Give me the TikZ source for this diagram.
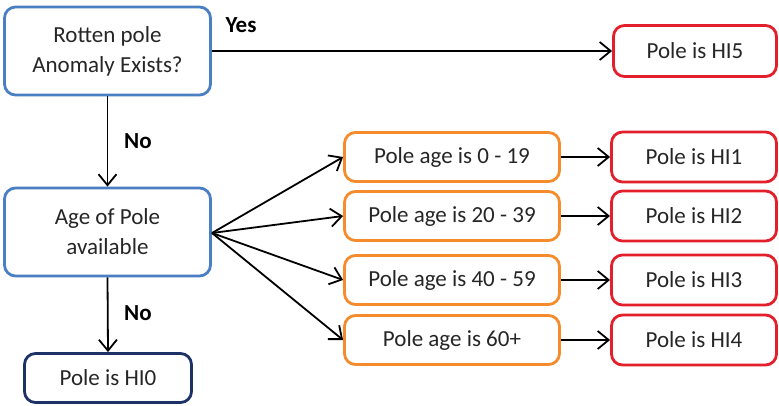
\documentclass[tikz,border=0pt]{standalone}
\usepackage{fontspec}
\setmainfont{Carlito}
\usetikzlibrary{arrows.meta}
\definecolor{boxblue}{HTML}{4A7FC3}
\definecolor{boxorange}{HTML}{F68B2C}
\definecolor{boxred}{HTML}{E21F2A}
\definecolor{boxnavy}{HTML}{1C3266}
\definecolor{txt}{HTML}{262626}
\begin{document}
\begin{tikzpicture}[x=1pt,y=-1pt,
  box/.style={draw, line width=2.8pt, rounded corners=11pt, fill=white, align=center,
    text=txt, font=\fontsize{23}{30}\selectfont, inner sep=0pt},
  bluebox/.style={box, draw=boxblue, minimum width=206pt, minimum height=88pt},
  agebox/.style={box, draw=boxorange, minimum width=215pt, minimum height=49pt},
  hibox/.style={box, draw=boxred, minimum width=165pt, minimum height=50pt},
  navybox/.style={box, draw=boxnavy, minimum width=167pt, minimum height=49pt},
  conn/.style={draw=black, line width=1.8pt, -{Straight Barb[length=11pt,width=18pt,line width=1.8pt]}},
  lbl/.style={font=\bfseries\fontsize{23}{28}\selectfont, text=black, inner sep=0pt}]
\useasboundingbox (0,0) rectangle (779,406);
\node[bluebox] (rot) at (107.5,51) {Rotten pole\\Anomaly Exists?};
\node[bluebox] (age) at (107.5,232) {Age of Pole\\available};
\node[navybox] (hi0) at (108,378) {Pole is HI0};
\node[hibox, minimum width=163pt, minimum height=51pt] (hi5) at (695,51) {Pole is HI5};
\node[agebox] (a1) at (452,157) {Pole age is 0 - 19};
\node[agebox] (a2) at (452,216) {Pole age is 20 - 39};
\node[agebox] (a3) at (452,280) {Pole age is 40 - 59};
\node[agebox] (a4) at (452,340) {Pole age is 60+};
\node[hibox] (h1) at (694,157) {Pole is HI1};
\node[hibox] (h2) at (694,216) {Pole is HI2};
\node[hibox] (h3) at (694,280) {Pole is HI3};
\node[hibox] (h4) at (694,340) {Pole is HI4};
\coordinate (fan) at (212,233);
\draw[conn] (rot.east) -- (hi5.west);
\draw[conn] (rot.south) -- (age.north);
\draw[conn] (age.south) -- (hi0.north);
\draw[conn] (fan) -- (a1.west);
\draw[conn] (fan) -- (a2.west);
\draw[conn] (fan) -- (a3.west);
\draw[conn] (fan) -- (a4.west);
\draw[conn] (a1.east) -- (h1.west);
\draw[conn] (a2.east) -- (h2.west);
\draw[conn] (a3.east) -- (h3.west);
\draw[conn] (a4.east) -- (h4.west);
\node[lbl] (yes) at (241,25) {Yes};
\node[lbl] (no1) at (138,141) {No};
\node[lbl] (no2) at (138,313) {No};
\end{tikzpicture}
\end{document}
